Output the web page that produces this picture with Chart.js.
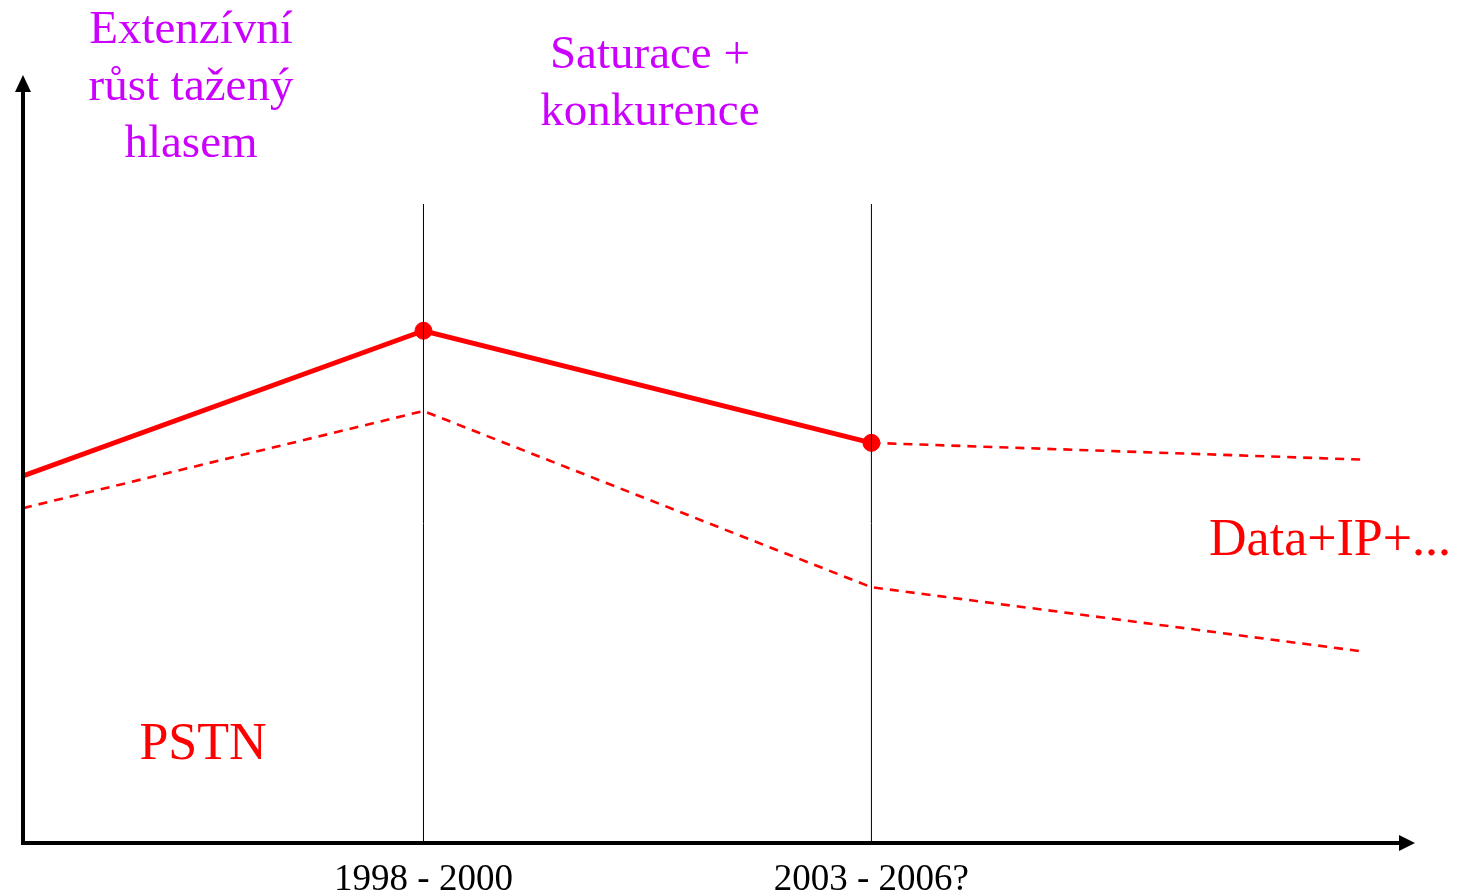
<!DOCTYPE html>
<html>
<head>
<meta charset="utf-8">
<script src="https://cdn.jsdelivr.net/npm/chart.js@4/dist/chart.umd.min.js"></script>
<style>
html,body{margin:0;padding:0;background:#fff;}
canvas{display:block;}
</style>
</head>
<body>
<canvas id="c" width="1462" height="896"></canvas>
<script>
// ---- data (x: time axis 0..100, y: revenue index 0..100) ----
const pstnX = [0, 28.77, 60.95];
const pstnY = [47.8, 66.7, 52.1];
const upperForecastX = [60.95, 96.55];
const upperForecastY = [52.1, 49.9];
const lowerScenarioX = [0, 28.77, 60.95, 96.4];
const lowerScenarioY = [43.6, 56.25, 33.3, 24.9];
const periodX = [28.77, 60.95];
const periodTop = 83.2;
const tickLabels = ["1998 - 2000", "2003 - 2006?"];
const phaseTexts = [
  {lines:["Extenzívní","růst tažený","hlasem"], x:12.07, y:104.2, color:"#cc00ff", size:47},
  {lines:["Saturace +","konkurence"], x:45.04, y:100.9, color:"#cc00ff", size:47}
];
const seriesTexts = [
  {lines:["PSTN"], x:12.93, y:10.9, color:"#ff0000", size:52},
  {lines:["Data+IP+..."], x:93.9, y:37.5, color:"#ff0000", size:52}
];

const zip = (xs, ys) => xs.map((x,i)=>({x, y:ys[i]}));

const datasets = [];
periodX.forEach(px => datasets.push({
  data:[{x:px,y:0},{x:px,y:periodTop}],
  borderColor:"#000", borderWidth:1, pointRadius:0, order:0
}));
datasets.push({
  data: zip(pstnX, pstnY),
  borderColor:"#ff0000", borderWidth:5, tension:0, order:1,
  pointRadius:[0,8.5,8.5], pointBackgroundColor:"#ff0000",
  pointBorderColor:"#ff0000", pointBorderWidth:1
});
datasets.push({
  data: zip(upperForecastX, upperForecastY),
  borderColor:"#ff0000", borderWidth:2.6, borderDash:[9,7], tension:0, pointRadius:0, order:2
});
datasets.push({
  data: zip(lowerScenarioX, lowerScenarioY),
  borderColor:"#ff0000", borderWidth:2.6, borderDash:[9,7], tension:0, pointRadius:0, order:2
});

const decor = {
  id:"decor",
  afterDraw(chart){
    const ctx = chart.ctx, xs = chart.scales.x, ys = chart.scales.y;
    const a = chart.chartArea;
    ctx.save();
    // axes
    ctx.strokeStyle = "#000"; ctx.fillStyle = "#000"; ctx.lineWidth = 4;
    ctx.beginPath();
    ctx.moveTo(a.left, a.bottom + 2); ctx.lineTo(a.left, a.top + 14);
    ctx.moveTo(a.left - 2, a.bottom); ctx.lineTo(a.right - 14, a.bottom);
    ctx.stroke();
    ctx.beginPath();
    ctx.moveTo(a.left, a.top); ctx.lineTo(a.left - 8, a.top + 17); ctx.lineTo(a.left + 8, a.top + 17); ctx.closePath();
    ctx.fill();
    ctx.beginPath();
    ctx.moveTo(a.right, a.bottom); ctx.lineTo(a.right - 16, a.bottom - 8); ctx.lineTo(a.right - 16, a.bottom + 8); ctx.closePath();
    ctx.fill();
    // tick labels
    ctx.font = "37px 'Liberation Serif'";
    ctx.textAlign = "center"; ctx.textBaseline = "alphabetic";
    periodX.forEach((px,i) => ctx.fillText(tickLabels[i], xs.getPixelForValue(px), a.bottom + 47));
    // texts
    [...phaseTexts, ...seriesTexts].forEach(t => {
      ctx.font = t.size + "px 'Liberation Serif'";
      ctx.fillStyle = t.color;
      const cx = xs.getPixelForValue(t.x);
      const by = ys.getPixelForValue(t.y);
      t.lines.forEach((ln,i) => ctx.fillText(ln, cx, by + i*57));
    });
    ctx.restore();
  }
};

new Chart(document.getElementById("c"), {
  type:"line",
  data:{datasets},
  options:{
    responsive:false, animation:false, devicePixelRatio:1,
    layout:{padding:{left:23, right:47, top:75, bottom:53}},
    plugins:{legend:{display:false}, tooltip:{enabled:false}},
    scales:{
      x:{type:"linear", min:0, max:100, display:false},
      y:{type:"linear", min:0, max:100, display:false}
    }
  },
  plugins:[decor]
});
</script>
</body>
</html>
